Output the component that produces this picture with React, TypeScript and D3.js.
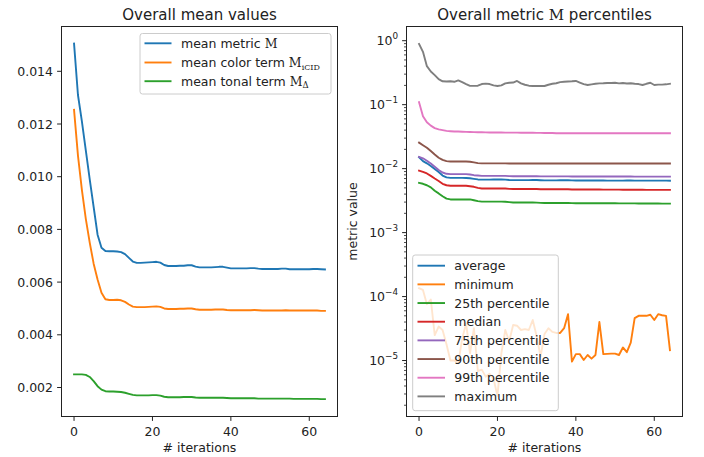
import React from "react";
import * as d3 from "d3";

// iteration index 0..64
const iterations: number[] = d3.range(0, 65);

// Left panel: overall mean values
const meanMetric: number[] = [
  0.01505, 0.0131, 0.0121, 0.011, 0.0099, 0.00885, 0.0078, 0.0073, 0.00718, 0.00717,
  0.00717, 0.00716, 0.00714, 0.00706, 0.00692, 0.00678, 0.00673, 0.00673, 0.00674, 0.00675,
  0.00676, 0.00677, 0.00674, 0.00665, 0.00661, 0.00661, 0.00661, 0.00662, 0.00662, 0.00664,
  0.00664, 0.00659, 0.00656, 0.00656, 0.00656, 0.00656, 0.00657, 0.00658, 0.00658, 0.00655,
  0.00652, 0.00652, 0.00652, 0.00652, 0.00652, 0.00653, 0.00653, 0.00651, 0.0065, 0.0065,
  0.0065, 0.0065, 0.0065, 0.00651, 0.00651, 0.00649, 0.00649, 0.00649, 0.00649, 0.00649,
  0.00649, 0.0065, 0.0065, 0.00649, 0.00648,
];
const meanColor: number[] = [
  0.01254, 0.0108, 0.0095, 0.0084, 0.0075, 0.0067, 0.0061, 0.0056, 0.00535, 0.00532,
  0.00532, 0.00533, 0.00531, 0.00525, 0.00515, 0.00507, 0.00505, 0.00505, 0.00505, 0.00506,
  0.00507, 0.00508, 0.00506, 0.005, 0.00498, 0.00498, 0.00498, 0.00499, 0.00499, 0.005,
  0.005, 0.00497, 0.00495, 0.00495, 0.00495, 0.00495, 0.00496, 0.00496, 0.00496, 0.00494,
  0.00493, 0.00493, 0.00493, 0.00493, 0.00493, 0.00493, 0.00494, 0.00493, 0.00492, 0.00492,
  0.00492, 0.00492, 0.00492, 0.00492, 0.00493, 0.00492, 0.00492, 0.00492, 0.00492, 0.00492,
  0.00492, 0.00492, 0.00492, 0.00491, 0.00491,
];
const meanTonal: number[] = [
  0.0025, 0.0025, 0.0025, 0.00248, 0.0024, 0.00224, 0.00205, 0.00192, 0.00186, 0.00185,
  0.00185, 0.00184, 0.00183, 0.0018, 0.00176, 0.00172, 0.0017, 0.0017, 0.0017, 0.0017,
  0.00171, 0.00171, 0.00169, 0.00165, 0.00163, 0.00163, 0.00163, 0.00163, 0.00164, 0.00164,
  0.00164, 0.00162, 0.00161, 0.00161, 0.00161, 0.00161, 0.00161, 0.00161, 0.00161, 0.0016,
  0.00159, 0.00159, 0.00159, 0.00159, 0.00159, 0.00159, 0.00159, 0.00158, 0.00158, 0.00158,
  0.00158, 0.00158, 0.00158, 0.00158, 0.00158, 0.00158, 0.00157, 0.00157, 0.00157, 0.00157,
  0.00157, 0.00157, 0.00157, 0.00156, 0.00156,
];

// Right panel: metric percentiles (log scale)
const p25: number[] = [
  0.006, 0.0058, 0.0055, 0.0051, 0.0045, 0.0041, 0.0037, 0.0034, 0.0033, 0.0033,
  0.0033, 0.0033, 0.0033, 0.0033, 0.0032, 0.0031, 0.00305, 0.00305, 0.00305, 0.00305,
  0.00305, 0.00305, 0.00304, 0.003, 0.00296, 0.00295, 0.00295, 0.00295, 0.00295, 0.00295,
  0.00294, 0.00292, 0.0029, 0.0029, 0.0029, 0.0029, 0.0029, 0.0029, 0.0029, 0.00289,
  0.00288, 0.00288, 0.00288, 0.00288, 0.00288, 0.00288, 0.00288, 0.00287, 0.00287, 0.00287,
  0.00287, 0.00286, 0.00286, 0.00286, 0.00286, 0.00286, 0.00285, 0.00285, 0.00285, 0.00285,
  0.00285, 0.00285, 0.00284, 0.00284, 0.00284,
];
const median: number[] = [
  0.0093, 0.0089, 0.0084, 0.0077, 0.007, 0.0064, 0.0058, 0.0055, 0.0054, 0.0054,
  0.0054, 0.0054, 0.0054, 0.0053, 0.0052, 0.005, 0.0049, 0.0049, 0.0049, 0.0049,
  0.0049, 0.0049, 0.0049, 0.00483, 0.0048, 0.0048, 0.0048, 0.0048, 0.0048, 0.0048,
  0.0048, 0.00477, 0.00475, 0.00475, 0.00475, 0.00475, 0.00475, 0.00475, 0.00475, 0.00473,
  0.00471, 0.00471, 0.00471, 0.00471, 0.00471, 0.00471, 0.00471, 0.0047, 0.00469, 0.00469,
  0.00469, 0.00469, 0.00468, 0.00468, 0.00468, 0.00467, 0.00467, 0.00467, 0.00466, 0.00466,
  0.00466, 0.00466, 0.00465, 0.00465, 0.00465,
];
const p75: number[] = [
  0.0152, 0.0145, 0.0133, 0.012, 0.0107, 0.0095, 0.0087, 0.0083, 0.0082, 0.0082,
  0.0082, 0.0082, 0.0082, 0.0081, 0.0079, 0.0078, 0.0077, 0.0077, 0.0077, 0.0077,
  0.0077, 0.0077, 0.0077, 0.00765, 0.0076, 0.0076, 0.0076, 0.0076, 0.0076, 0.0076,
  0.0076, 0.00758, 0.00757, 0.00757, 0.00757, 0.00757, 0.00757, 0.00757, 0.00757, 0.00755,
  0.00754, 0.00754, 0.00754, 0.00754, 0.00754, 0.00754, 0.00754, 0.00753, 0.00752, 0.00752,
  0.00752, 0.00752, 0.00752, 0.00752, 0.00752, 0.00751, 0.00751, 0.00751, 0.00751, 0.0075,
  0.0075, 0.0075, 0.0075, 0.0075, 0.0075,
];
const p90: number[] = [
  0.0255, 0.0232, 0.0212, 0.0188, 0.0166, 0.0148, 0.0137, 0.0131, 0.0129, 0.0129,
  0.0129, 0.0129, 0.0129, 0.0128, 0.0125, 0.0122, 0.0121, 0.0121, 0.0121, 0.0121,
  0.0121, 0.0121, 0.0121, 0.01205, 0.012, 0.012, 0.012, 0.012, 0.012, 0.012,
  0.012, 0.012, 0.012, 0.012, 0.012, 0.012, 0.012, 0.012, 0.012, 0.012,
  0.012, 0.012, 0.012, 0.012, 0.012, 0.012, 0.012, 0.012, 0.012, 0.012,
  0.012, 0.012, 0.012, 0.012, 0.012, 0.012, 0.012, 0.012, 0.012, 0.012,
  0.012, 0.012, 0.012, 0.012, 0.012,
];
const p99: number[] = [
  0.109, 0.066, 0.053, 0.047, 0.043, 0.041, 0.04, 0.039, 0.0385, 0.038,
  0.038, 0.0378, 0.0376, 0.0374, 0.0372, 0.037, 0.037, 0.0369, 0.0368, 0.0368,
  0.0367, 0.0367, 0.0366, 0.0366, 0.0365, 0.0365, 0.0364, 0.0364, 0.0363, 0.0363,
  0.0362, 0.0362, 0.0361, 0.0361, 0.036, 0.0358, 0.0358, 0.0358, 0.0358, 0.0358,
  0.0358, 0.0358, 0.0358, 0.0358, 0.0358, 0.0358, 0.0358, 0.0358, 0.0358, 0.0357,
  0.0357, 0.0357, 0.0357, 0.0357, 0.0357, 0.0357, 0.0357, 0.0357, 0.0357, 0.0357,
  0.0357, 0.0357, 0.0357, 0.0357, 0.0357,
];
const maximum: number[] = [
  0.89, 0.67, 0.4, 0.33, 0.29, 0.25, 0.232, 0.23, 0.232, 0.228,
  0.24, 0.225, 0.21, 0.197, 0.197, 0.198, 0.21, 0.213, 0.21, 0.2,
  0.196, 0.2, 0.215, 0.22, 0.222, 0.235, 0.215, 0.205, 0.198, 0.196,
  0.196, 0.196, 0.196, 0.205, 0.212, 0.216, 0.225, 0.228, 0.23, 0.232,
  0.235, 0.222, 0.21, 0.203, 0.208, 0.212, 0.215, 0.216, 0.218, 0.218,
  0.22, 0.215, 0.218, 0.214, 0.216, 0.212, 0.21, 0.203, 0.212, 0.22,
  0.203, 0.206, 0.206, 0.208, 0.212,
];
const minimum: number[] = [
  1.35e-4, 1.27e-4, 7.6e-5, 9e-5, 2.5e-5, 3.4e-5, 3.0e-5, 1.8e-5, 1.0e-5, 1.0e-5,
  9e-6, 2.2e-5, 3.8e-5, 1.3e-5, 3.2e-5, 6.8e-6, 7.2e-6, 5.6e-6, 6.2e-6, 5.2e-6,
  2.8e-6, 1.3e-5, 3.0e-5, 2.0e-5, 3.6e-5, 3.5e-5, 3.0e-5, 3.1e-5, 3.0e-5, 4.3e-5,
  2.4e-5, 1.15e-5, 2.6e-5, 3.2e-5, 2.8e-5, 2.7e-5, 2.7e-5, 3.2e-5, 5.3e-5, 9.6e-6,
  1.26e-5, 1.26e-5, 1.02e-5, 1.22e-5, 1.07e-5, 1.22e-5, 4.0e-5, 1.26e-5, 1.27e-5, 1.28e-5,
  1.28e-5, 1.22e-5, 1.6e-5, 1.35e-5, 1.9e-5, 4.6e-5, 5.0e-5, 5.0e-5, 5.0e-5, 5.2e-5,
  4.3e-5, 5.3e-5, 5.1e-5, 5.0e-5, 1.45e-5,
];

const xTicks: number[] = [0, 20, 40, 60];
const leftYTicks: number[] = [0.002, 0.004, 0.006, 0.008, 0.01, 0.012, 0.014];
const rightYExponents: number[] = [-5, -4, -3, -2, -1, 0];

const COLORS = {
  blue: "#1f77b4",
  orange: "#ff7f0e",
  green: "#2ca02c",
  red: "#d62728",
  purple: "#9467bd",
  brown: "#8c564b",
  pink: "#e377c2",
  grey: "#7f7f7f",
};

const FONT = "'DejaVu Sans', sans-serif";
const SERIF = "'DejaVu Serif', serif";
const TICK_FS = 12.5;
const TEXT = "#222";

const W = 704;
const H = 457;

// Axes frames
const L = { x0: 61.5, x1: 337.5, y0: 26.5, y1: 416.5 };
const R = { x0: 406.5, x1: 682.5, y0: 26.5, y1: 416.5 };

const xLeft = d3.scaleLinear().domain([-3.2, 67.2]).range([L.x0, L.x1]);
const xRight = d3.scaleLinear().domain([-3.2, 67.2]).range([R.x0, R.x1]);
const yLeft = d3.scaleLinear().domain([0.0009, 0.0157]).range([L.y1, L.y0]);
const yRight = d3
  .scaleLog()
  .domain([Math.pow(10, -5.875), Math.pow(10, 0.222)])
  .range([R.y1, R.y0]);

function pathFor(
  values: number[],
  xs: d3.ScaleLinear<number, number>,
  ys: (v: number) => number
): string {
  const gen = d3
    .line<number>()
    .x((_, i) => xs(iterations[i]))
    .y((v) => ys(v));
  return gen(values) || "";
}

const leftSeries = [
  { values: meanMetric, color: COLORS.blue },
  { values: meanColor, color: COLORS.orange },
  { values: meanTonal, color: COLORS.green },
];

const rightSeries = [
  { name: "average", values: meanMetric, color: COLORS.blue },
  { name: "minimum", values: minimum, color: COLORS.orange },
  { name: "25th percentile", values: p25, color: COLORS.green },
  { name: "median", values: median, color: COLORS.red },
  { name: "75th percentile", values: p75, color: COLORS.purple },
  { name: "90th percentile", values: p90, color: COLORS.brown },
  { name: "99th percentile", values: p99, color: COLORS.pink },
  { name: "maximum", values: maximum, color: COLORS.grey },
];

const LW = 1.9;
const TICK_LEN = 4.4;
const MINOR_LEN = 2.5;

function XAxis({ xs, frame }: { xs: d3.ScaleLinear<number, number>; frame: typeof L }) {
  return (
    <g>
      {xTicks.map((t) => (
        <g key={t}>
          <line x1={xs(t)} x2={xs(t)} y1={frame.y1} y2={frame.y1 + TICK_LEN} stroke={TEXT} strokeWidth={1} />
          <text x={xs(t)} y={frame.y1 + 19.5} textAnchor="middle" fontSize={TICK_FS} fontFamily={FONT} fill={TEXT}>
            {t}
          </text>
        </g>
      ))}
      <text
        x={(frame.x0 + frame.x1) / 2}
        y={frame.y1 + 35.5}
        textAnchor="middle"
        fontSize={TICK_FS}
        fontFamily={FONT}
        fill={TEXT}
      >
        # iterations
      </text>
    </g>
  );
}

function Frame({ frame }: { frame: typeof L }) {
  return (
    <rect
      x={frame.x0}
      y={frame.y0}
      width={frame.x1 - frame.x0}
      height={frame.y1 - frame.y0}
      fill="none"
      stroke={TEXT}
      strokeWidth={1}
    />
  );
}

export default function App() {
  const fmt = d3.format(".3f");
  const minorTicks: number[] = [];
  for (let k = -6; k <= 0; k++) {
    for (let m = 2; m <= 9; m++) {
      const v = m * Math.pow(10, k);
      const [lo, hi] = yRight.domain();
      if (v >= lo && v <= hi) minorTicks.push(v);
    }
  }

  const leftLegend = { x: 140, y: 33.5, w: 191, h: 60.5, rows: [43.3, 62.5, 81.2] };
  const rightLegend = { x: 412.7, y: 255, w: 145.6, h: 155.7, row0: 265.7, step: 18.67 };

  return (
    <svg width={W} height={H} style={{ position: "absolute", left: 0, top: 0, background: "#fff" }}>
      <rect x={0} y={0} width={W} height={H} fill="#fff" />

      {/* Left panel */}
      <text x={(L.x0 + L.x1) / 2} y={19.5} textAnchor="middle" fontSize={15} fontFamily={FONT} fill={TEXT}>
        Overall mean values
      </text>
      <defs>
        <clipPath id="clipL">
          <rect x={L.x0} y={L.y0} width={L.x1 - L.x0} height={L.y1 - L.y0} />
        </clipPath>
        <clipPath id="clipR">
          <rect x={R.x0} y={R.y0} width={R.x1 - R.x0} height={R.y1 - R.y0} />
        </clipPath>
      </defs>
      <g clipPath="url(#clipL)">
        {leftSeries.map((s, i) => (
          <path key={i} d={pathFor(s.values, xLeft, yLeft)} fill="none" stroke={s.color} strokeWidth={LW} strokeLinejoin="round" strokeLinecap="square" />
        ))}
      </g>
      {leftYTicks.map((t) => (
        <g key={t}>
          <line x1={L.x0 - TICK_LEN} x2={L.x0} y1={yLeft(t)} y2={yLeft(t)} stroke={TEXT} strokeWidth={1} />
          <text x={L.x0 - 8.5} y={yLeft(t) + 4.5} textAnchor="end" fontSize={TICK_FS} fontFamily={FONT} fill={TEXT}>
            {fmt(t)}
          </text>
        </g>
      ))}
      <XAxis xs={xLeft} frame={L} />
      <Frame frame={L} />

      {/* Left legend */}
      <rect x={leftLegend.x} y={leftLegend.y} width={leftLegend.w} height={leftLegend.h} rx={2.5} fill="#fff" fillOpacity={0.8} stroke="#ccc" strokeWidth={1} />
      {leftSeries.map((s, i) => (
        <line key={i} x1={144.5} x2={171.5} y1={leftLegend.rows[i]} y2={leftLegend.rows[i]} stroke={s.color} strokeWidth={LW} />
      ))}
      <text x={181} y={leftLegend.rows[0] + 4.5} fontSize={TICK_FS} fontFamily={FONT} fill={TEXT}>
        mean metric <tspan fontFamily={SERIF}>M</tspan>
      </text>
      <text x={181} y={leftLegend.rows[1] + 4.5} fontSize={TICK_FS} fontFamily={FONT} fill={TEXT}>
        mean color term <tspan fontFamily={SERIF}>M</tspan>
        <tspan fontFamily={SERIF} fontSize={8} dy={2.5}>iCID</tspan>
      </text>
      <text x={181} y={leftLegend.rows[2] + 4.5} fontSize={TICK_FS} fontFamily={FONT} fill={TEXT}>
        mean tonal term <tspan fontFamily={SERIF}>M</tspan>
        <tspan fontFamily={SERIF} fontSize={8.5} dy={2.5}>Δ</tspan>
      </text>

      {/* Right panel */}
      <text x={(R.x0 + R.x1) / 2} y={19.5} textAnchor="middle" fontSize={15} fontFamily={FONT} fill={TEXT}>
        Overall metric <tspan fontFamily={SERIF}>M</tspan> percentiles
      </text>
      <g clipPath="url(#clipR)">
        {rightSeries.map((s, i) => (
          <path key={i} d={pathFor(s.values, xRight, (v) => yRight(v))} fill="none" stroke={s.color} strokeWidth={LW} strokeLinejoin="round" strokeLinecap="square" />
        ))}
      </g>
      {minorTicks.map((v, i) => (
        <line key={i} x1={R.x0 - MINOR_LEN} x2={R.x0} y1={yRight(v)} y2={yRight(v)} stroke={TEXT} strokeWidth={0.8} />
      ))}
      {rightYExponents.map((e) => {
        const y = yRight(Math.pow(10, e));
        const exp = e < 0 ? "\u2212" + Math.abs(e) : String(e);
        return (
          <g key={e}>
            <line x1={R.x0 - TICK_LEN} x2={R.x0} y1={y} y2={y} stroke={TEXT} strokeWidth={1} />
            <text x={R.x0 - 8.5} y={y + 4.5} textAnchor="end" fontSize={TICK_FS} fontFamily={FONT} fill={TEXT}>
              10
              <tspan fontSize={8.8} dy={-6}>{exp}</tspan>
            </text>
          </g>
        );
      })}
      <text
        transform={`translate(357,${(R.y0 + R.y1) / 2}) rotate(-90)`}
        textAnchor="middle"
        fontSize={TICK_FS}
        fontFamily={FONT}
        fill={TEXT}
      >
        metric value
      </text>
      <XAxis xs={xRight} frame={R} />
      <Frame frame={R} />

      {/* Right legend */}
      <rect x={rightLegend.x} y={rightLegend.y} width={rightLegend.w} height={rightLegend.h} rx={2.5} fill="#fff" fillOpacity={0.8} stroke="#ccc" strokeWidth={1} />
      {rightSeries.map((s, i) => {
        const y = rightLegend.row0 + i * rightLegend.step;
        return (
          <g key={s.name}>
            <line x1={417.5} x2={445} y1={y} y2={y} stroke={s.color} strokeWidth={LW} />
            <text x={454.3} y={y + 4.5} fontSize={TICK_FS} fontFamily={FONT} fill={TEXT}>
              {s.name}
            </text>
          </g>
        );
      })}
    </svg>
  );
}
